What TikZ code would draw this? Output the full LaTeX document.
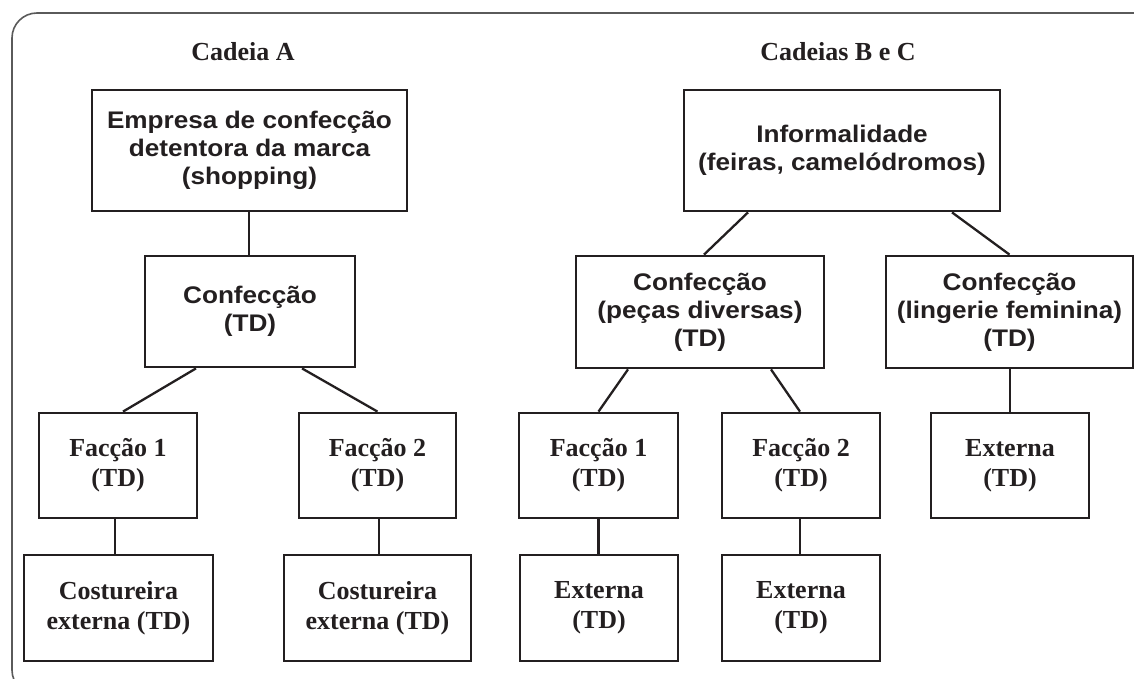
\documentclass[tikz,border=0pt]{standalone}
\usepackage{fontspec}
\setmainfont{Liberation Serif}
\newfontfamily\sansb[FakeStretch=1.09]{Liberation Sans}
\definecolor{ink}{HTML}{231F20}
\definecolor{framegray}{HTML}{5A5A5A}
\tikzset{
  box/.style={draw=ink, line width=2.8pt, rectangle, inner sep=0pt, align=center, text=ink},
  sbox/.style={box, font=\sansb\bfseries\fontsize{24}{28}\selectfont},
  rbox/.style={box, font=\bfseries\fontsize{26}{30}\selectfont},
  link/.style={draw=ink, line width=2.3pt},
  title/.style={font=\bfseries\fontsize{26}{30}\selectfont, text=ink, inner sep=0pt, anchor=base}
}
\begin{document}
\begin{tikzpicture}[x=1pt,y=-1pt]
\useasboundingbox (0,0) rectangle (1134,679);
\draw[framegray, line width=1.6pt, rounded corners=25pt] (12,13) rectangle (1160,695);

% titles
\node[title] (tA) at (243,61) {Cadeia A};
\node[title] (tB) at (838,61) {Cadeias B e C};

% Cadeia A
\node[sbox, minimum width=315pt, minimum height=121pt] (emp) at (249.5,150.5) {Empresa de confecção\\detentora da marca\\(shopping)};
\node[sbox, minimum width=210pt, minimum height=111pt] (confA) at (250,311.5) {Confecção\\(TD)};
\node[rbox, minimum width=158pt, minimum height=105pt] (f1A) at (118,465.5) {Facção 1\\(TD)};
\node[rbox, minimum width=157pt, minimum height=105pt] (f2A) at (377.5,465.5) {Facção 2\\(TD)};
\node[rbox, minimum width=189pt, minimum height=106pt] (c1A) at (118.5,608) {Costureira\\externa (TD)};
\node[rbox, minimum width=187pt, minimum height=106pt] (c2A) at (377.5,608) {Costureira\\externa (TD)};

% Cadeias B e C
\node[sbox, minimum width=316pt, minimum height=121pt] (inf) at (842,150.5) {Informalidade\\(feiras, camelódromos)};
\node[sbox, minimum width=248pt, minimum height=112pt] (confB) at (700,312) {Confecção\\(peças diversas)\\(TD)};
\node[sbox, minimum width=247pt, minimum height=112pt] (confC) at (1009.5,312) {Confecção\\(lingerie feminina)\\(TD)};
\node[rbox, minimum width=159pt, minimum height=105pt] (f1B) at (598.5,465.5) {Facção 1\\(TD)};
\node[rbox, minimum width=158pt, minimum height=105pt] (f2B) at (801,465.5) {Facção 2\\(TD)};
\node[rbox, minimum width=158pt, minimum height=105pt] (extC) at (1010,465.5) {Externa\\(TD)};
\node[rbox, minimum width=158pt, minimum height=106pt] (e1B) at (599,608) {Externa\\(TD)};
\node[rbox, minimum width=158pt, minimum height=106pt] (e2B) at (801,608) {Externa\\(TD)};

% connectors A
\draw[link] ([xshift=-0.5pt]emp.south) -- ([xshift=-1pt]confA.north);
\draw[link] ([xshift=-54pt]confA.south) -- ([xshift=5pt]f1A.north);
\draw[link] ([xshift=52pt]confA.south) -- (f2A.north);
\draw[link] ([xshift=-3pt]f1A.south) -- ([xshift=-3.5pt]c1A.north);
\draw[link] ([xshift=1.5pt]f2A.south) -- ([xshift=1.5pt]c2A.north);

% connectors B/C
\draw[link] ([xshift=-94pt]inf.south) -- ([xshift=4pt]confB.north);
\draw[link] ([xshift=110pt]inf.south) -- (confC.north);
\draw[link] ([xshift=-72pt]confB.south) -- (f1B.north);
\draw[link] ([xshift=71pt]confB.south) -- ([xshift=-1pt]f2B.north);
\draw[link] ([xshift=0.5pt]confC.south) -- (extC.north);
\draw[link] (f1B.south) -- ([xshift=-0.5pt]e1B.north);
\draw[link] ([xshift=-1pt]f2B.south) -- ([xshift=-1pt]e2B.north);
\end{tikzpicture}
\end{document}
